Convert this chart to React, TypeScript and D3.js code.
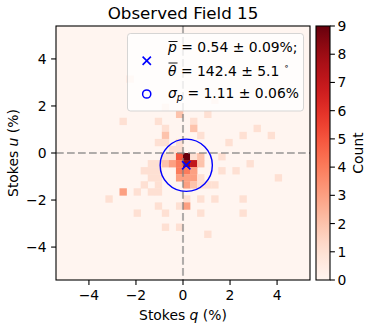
import React from 'react';
import * as d3 from 'd3';

const title = 'Observed Field 15';
const binMin = -5.4;
const binMax = 5.4;
const binWidth = 0.3;
const xTicks = [-4, -2, 0, 2, 4];
const yTicks = [-4, -2, 0, 2, 4];
const cbarTicks = [0, 1, 2, 3, 4, 5, 6, 7, 8, 9];
const countMax = 9;

// non-empty bins of the 2D histogram: q bin index (from left), u bin index (from bottom), count
const qBin = [10, 22, 15, 17, 21, 9, 14, 19, 15, 19, 28, 15, 20, 26, 30, 14, 15, 17, 24,
  16, 17,
  15, 16, 17, 18, 19, 20, 23,
  13, 14, 15, 16, 17, 18, 19, 20, 27,
  12, 13, 14, 17, 18, 19, 23, 25,
  13, 14, 17, 18, 19, 20, 31,
  12, 14, 18, 19, 20, 21, 22,
  9, 11, 13, 14,
  7, 18, 20, 22, 26,
  14, 17, 18,
  11, 15, 20, 26,
  15, 17, 21];
const uBin = [28, 25, 24, 23, 23, 22, 22, 22, 21, 21, 21, 20, 20, 20, 20, 19, 19, 19, 19,
  18, 18,
  17, 17, 17, 17, 17, 17, 17,
  16, 16, 16, 16, 16, 16, 16, 16, 16,
  15, 15, 15, 15, 15, 15, 15, 15,
  14, 14, 14, 14, 14, 14, 14,
  13, 13, 13, 13, 13, 13, 13,
  12, 12, 12, 12,
  11, 11, 11, 11, 11,
  10, 10, 10,
  9, 9, 9, 9,
  7, 7, 6];
const binCount = [1, 1, 1, 2, 1, 1, 1, 1, 1, 2, 1, 2, 1, 1, 1, 1, 1, 1, 1,
  1, 1,
  1, 1, 5, 9, 1, 2, 1,
  1, 1, 2, 3, 4, 8, 7, 2, 1,
  1, 1, 1, 4, 4, 3, 1, 1,
  1, 1, 3, 3, 3, 1, 1,
  1, 1, 3, 2, 1, 1, 1,
  3, 1, 1, 1,
  1, 1, 1, 1, 1,
  1, 1, 3,
  1, 1, 1, 1,
  1, 1, 1];

const meanP = 0.54;
const meanTheta = 142.4;
const sigmaP = 1.11;

const W = 389;
const H = 330;
const margin = { left: 56, right: 310, top: 26, bottom: 280 };
const cbar = { left: 316, right: 330 };
const font = 'DejaVu Sans, sans-serif';

export default function App() {
  const x = d3.scaleLinear().domain([binMin, binMax]).range([margin.left, margin.right]);
  const y = d3.scaleLinear().domain([binMin, binMax]).range([margin.bottom, margin.top]);
  const color = (v: number) => d3.interpolateReds(v / countMax);
  const cy = d3.scaleLinear().domain([0, countMax]).range([margin.bottom, margin.top]);

  const cells = binCount.map((c, k) => ({
    q0: binMin + qBin[k] * binWidth,
    u1: binMin + (uBin[k] + 1) * binWidth,
    c,
  }));

  const meanQ = meanP * Math.cos((2 * meanTheta * Math.PI) / 180);
  const meanU = meanP * Math.sin((2 * meanTheta * Math.PI) / 180);
  const rPix = x(sigmaP) - x(0);
  const ms = 4.15;

  const gradStops = d3.range(0, 1.0001, 0.05);

  const lx = 168;
  return (
    <svg width={W} height={H} style={{ position: 'absolute', left: 0, top: 0, fontFamily: font }}>
      <defs>
        <linearGradient id="cb" x1="0" y1="1" x2="0" y2="0">
          {gradStops.map((t) => (
            <stop key={t} offset={t} stopColor={d3.interpolateReds(t)} />
          ))}
        </linearGradient>
        <clipPath id="plot">
          <rect x={margin.left} y={margin.top} width={margin.right - margin.left} height={margin.bottom - margin.top} />
        </clipPath>
      </defs>
      <rect width={W} height={H} fill="white" />
      <text x={(margin.left + margin.right) / 2} y={18.5} textAnchor="middle" fontSize={16.7}>{title}</text>

      {/* histogram */}
      <rect x={margin.left} y={margin.top} width={margin.right - margin.left} height={margin.bottom - margin.top} fill={color(0)} />
      {cells.map((d, k) => (
        <rect key={k} x={x(d.q0)} y={y(d.u1)} width={x(d.q0 + binWidth) - x(d.q0) + 0.3}
          height={y(d.u1 - binWidth) - y(d.u1) + 0.3} fill={color(d.c)} />
      ))}

      <g clipPath="url(#plot)">
        <line x1={x(0)} x2={x(0)} y1={margin.top} y2={margin.bottom} stroke="#808080" strokeOpacity={0.62} strokeWidth={2.08} strokeDasharray="7.7,3.3" />
        <line x1={margin.left} x2={margin.right} y1={y(0)} y2={y(0)} stroke="#808080" strokeOpacity={0.62} strokeWidth={2.08} strokeDasharray="7.7,3.3" />
        <circle cx={x(meanQ)} cy={y(meanU)} r={rPix} fill="none" stroke="blue" strokeWidth={1.4} />
        <path d={`M${x(meanQ) - ms},${y(meanU) - ms}l${2 * ms},${2 * ms}M${x(meanQ) - ms},${y(meanU) + ms}l${2 * ms},${-2 * ms}`} stroke="blue" strokeWidth={1.6} />
      </g>

      {/* axes frame */}
      <rect x={margin.left} y={margin.top} width={margin.right - margin.left} height={margin.bottom - margin.top} fill="none" stroke="black" strokeWidth={1.1} />
      {xTicks.map((t) => (
        <g key={t}>
          <line x1={x(t)} x2={x(t)} y1={margin.bottom} y2={margin.bottom + 4.9} stroke="black" strokeWidth={1.1} />
          <text x={x(t)} y={300} textAnchor="middle" fontSize={13.9}>{t < 0 ? '\u2212' + Math.abs(t) : t}</text>
        </g>
      ))}
      {yTicks.map((t) => (
        <g key={t}>
          <line x1={margin.left - 4.9} x2={margin.left} y1={y(t)} y2={y(t)} stroke="black" strokeWidth={1.1} />
          <text x={46.5} y={y(t) + 5} textAnchor="end" fontSize={13.9}>{t < 0 ? '\u2212' + Math.abs(t) : t}</text>
        </g>
      ))}
      <text x={(margin.left + margin.right) / 2} y={320} textAnchor="middle" fontSize={13.9}>
        Stokes <tspan fontStyle="italic">q</tspan> (%)
      </text>
      <text transform={`translate(18,${(margin.top + margin.bottom) / 2}) rotate(-90)`} textAnchor="middle" fontSize={13.9}>
        Stokes <tspan fontStyle="italic">u</tspan> (%)
      </text>

      {/* legend */}
      <rect x={127.5} y={33.5} width={176} height={77.5} rx={3} fill="white" fillOpacity={0.8} stroke="#cccccc" strokeOpacity={0.8} strokeWidth={1} />
      <path d="M142.6,56.6l8.3,8.3M142.6,64.9l8.3,-8.3" stroke="blue" strokeWidth={1.6} />
      <circle cx={146.7} cy={94} r={4.1} fill="none" stroke="blue" strokeWidth={1.5} />
      <text x={lx} y={51.5} fontSize={13.9}>
        <tspan fontStyle="italic">p</tspan> = 0.54 ± 0.09%;
      </text>
      <line x1={lx + 0.5} x2={lx + 9.5} y1={41.5} y2={41.5} stroke="black" strokeWidth={0.9} />
      <text x={lx} y={76} fontSize={13.9}>
        <tspan fontStyle="italic">θ</tspan> = 142.4 ± 5.1 <tspan fontSize={9} dy={-7}>∘</tspan>
      </text>
      <line x1={lx + 0.5} x2={lx + 9.5} y1={63} y2={63} stroke="black" strokeWidth={0.9} />
      <text x={lx} y={98} fontSize={13.9}>
        <tspan fontStyle="italic">σ</tspan><tspan fontStyle="italic" fontSize={9.7} dy={3}>p</tspan><tspan dy={-3}> = 1.11 ± 0.06%</tspan>
      </text>

      {/* colorbar */}
      <rect x={cbar.left} y={margin.top} width={cbar.right - cbar.left} height={margin.bottom - margin.top} fill="url(#cb)" stroke="black" strokeWidth={1.1} />
      {cbarTicks.map((t) => (
        <g key={t}>
          <line x1={cbar.right} x2={cbar.right + 4.9} y1={cy(t)} y2={cy(t)} stroke="black" strokeWidth={1.1} />
          <text x={cbar.right + 7.5} y={cy(t) + 5} fontSize={13.9}>{t}</text>
        </g>
      ))}
      <text transform={`translate(363,${(margin.top + margin.bottom) / 2}) rotate(-90)`} textAnchor="middle" fontSize={13.9}>Count</text>
    </svg>
  );
}
